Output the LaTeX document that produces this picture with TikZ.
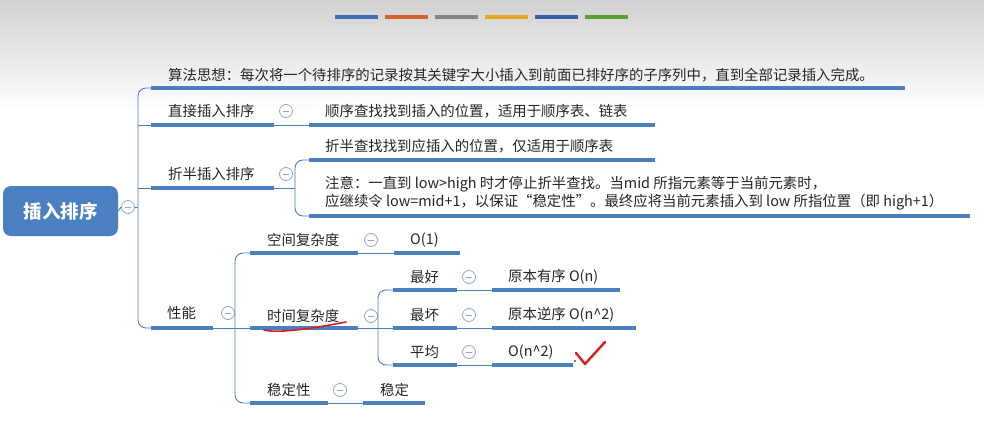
\documentclass[tikz,border=0pt]{standalone}
\usepackage{fontspec}
\setmainfont{Noto Sans CJK SC}
\begin{document}
\begin{tikzpicture}[x=1pt,y=-1pt,
  txt/.style={anchor=west,inner sep=0pt,font=\fontsize{14.4}{17}\selectfont,text=black!85},
  ul/.style={line width=3.5pt,draw=lineblue},
  cn/.style={line width=0.9pt,draw=lineblue,rounded corners=8pt},
  mn/.style={circle,draw=circ,fill=white,line width=0.8pt,minimum size=13pt,inner sep=0pt,
    path picture={\draw[circ,line width=1pt] ([xshift=-3pt]path picture bounding box.center) -- ([xshift=3pt]path picture bounding box.center);}}]
\definecolor{lineblue}{HTML}{4A7FC1}
\definecolor{circ}{HTML}{8FA6CC}
\definecolor{redmark}{HTML}{D81F1F}
\useasboundingbox (0,0) rectangle (984,428);
\shade[top color=black!18,bottom color=white] (0,0) rectangle (984,110);
\fill[white] (0,110) rectangle (984,428);
% color bars
\foreach \x/\c in {335/3F6FAE,385/D2642C,435/858585,485/E0A81C,535/3E5FA6,585/5E9E3A}{
  \definecolor{bc}{HTML}{\c}\fill[bc] (\x,15) rectangle ++(43,4);}
% root
\node[fill=lineblue,rounded corners=8pt,minimum width=115pt,minimum height=50pt,text=white,font=\fontsize{18.5}{20}\selectfont\bfseries] (root) at (60.5,211) {插入排序};
\node[mn] (m0) at (128,207) {};
\coordinate (t) at (138,207);
\draw[cn] (root.east) -- (m0.west);
\draw[cn] (m0.east) -- (t);
% trunk
\draw[cn] (151,88) -- (138,88) -- (138,328) -- (151,328);
\draw[cn] (138,125) -- (151,125);
\draw[cn] (138,188) -- (151,188);
% idea
\node[txt] (idea) at (168,75) {算法思想：每次将一个待排序的记录按其关键字大小插入到前面已排好序的子序列中，直到全部记录插入完成。};
\draw[ul] (151,88) -- (905,88);
% direct
\node[txt] (d) at (168,111) {直接插入排序};
\draw[ul] (151,125) -- (274,125);
\node[mn] (md) at (286,111) {};
\draw[cn] (274,125) -- (309,125);
\draw[ul] (309,125) -- (655,125);
\node[txt] (d1) at (325,111) {顺序查找找到插入的位置，适用于顺序表、链表};
% binary
\node[txt] (b) at (168,174) {折半插入排序};
\draw[ul] (151,188) -- (274,188);
\node[mn] (mb) at (286,174) {};
\draw[cn] (274,188) -- (295,188);
\draw[cn] (309,160) -- (295,160) -- (295,216) -- (309,216);
\draw[ul] (309,160) -- (655,160);
\draw[ul] (309,216) -- (970,216);
\node[txt] (b1) at (325,146) {折半查找找到应插入的位置，仅适用于顺序表};
\node[txt] (b2) at (325,184) {注意：一直到 low>high 时才停止折半查找。当mid 所指元素等于当前元素时，};
\node[txt] (b3) at (325,202) {应继续令 low=mid+1，以保证“稳定性”。最终应将当前元素插入到 low 所指位置（即 high+1）};
% performance
\node[txt] (p) at (167,313) {性能};
\draw[ul] (151,328) -- (213,328);
\node[mn] (mp) at (228,313) {};
\draw[cn] (213,328) -- (250,328);
\draw[cn] (250,253) -- (235,253) -- (235,403) -- (250,403);
\draw[ul] (250,253) -- (358,253);
\draw[ul] (250,328) -- (358,328);
\draw[ul] (250,403) -- (328,403);
\node[txt] (s) at (267,240) {空间复杂度};
\node[mn] (ms) at (371,240) {};
\draw[cn] (358,253) -- (394,253);
\draw[ul] (394,253) -- (460,253);
\node[txt] (s1) at (410,240) {O(1)};
\node[txt] (tm) at (267,316) {时间复杂度};
\node[mn] (mt) at (371,316) {};
\draw[cn] (358,328) -- (393,328);
\draw[cn] (393,290) -- (378,290) -- (378,365) -- (393,365);
\foreach \y/\a/\b/\e in {290/最好/原本有序 O(n)/620, 328/最坏/原本逆序 O(n\^{}2)/636, 365/平均/O(n\^{}2)/573}{
  \draw[ul] (393,\y) -- (457,\y);
  \node[txt] at (410,\y-13) {\a};
  \node[mn] at (469,\y-13) {};
  \draw[cn] (457,\y) -- (492,\y);
  \draw[ul] (492,\y) -- (\e,\y);
  \node[txt] at (508,\y-13) {\b};
}
\node[txt] (st) at (267,390) {稳定性};
\node[mn] (mst) at (340,390) {};
\draw[cn] (328,403) -- (363,403);
\draw[ul] (363,403) -- (425,403);
\node[txt] (st1) at (380,390) {稳定};
% red marks
\draw[redmark,line width=1.6pt,line cap=round] (264,330) .. controls (280,334) and (320,327) .. (346,322);
\draw[redmark,line width=2.4pt,line cap=round,line join=round] (576,353) -- (585,364) -- (605,342);
\fill[redmark] (575,361) circle (1.2pt);
\end{tikzpicture}
\end{document}
